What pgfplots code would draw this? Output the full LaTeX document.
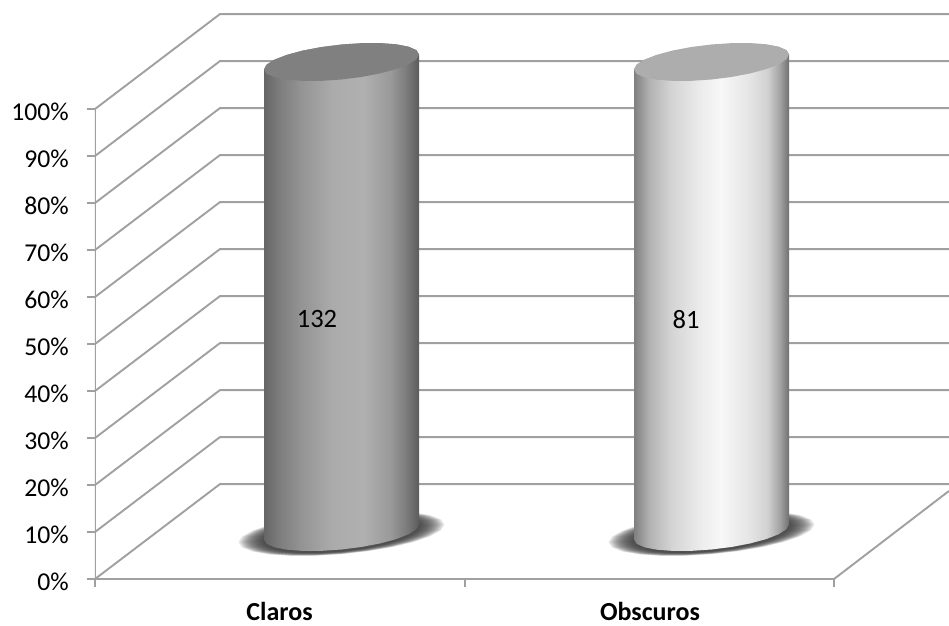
\documentclass[border=0pt]{standalone}
\usepackage{pgfplots}
\usepackage{pgfplotstable}
\usepackage{fontspec}
\setmainfont{Carlito}
\pgfplotsset{compat=1.18}

\definecolor{gridgray}{HTML}{A0A0A0}

% horizontal lighting of the two cylinders (bounding box maps to 25bp..75bp)
\pgfdeclarehorizontalshading{cylclaros}{100bp}{
  color(0bp)=(black!60); color(25bp)=(black!60); color(30bp)=(black!51);
  color(37bp)=(black!42); color(47bp)=(black!33); color(57bp)=(black!31);
  color(66bp)=(black!40); color(71bp)=(black!52); color(75bp)=(black!64);
  color(100bp)=(black!64)}
\pgfdeclarehorizontalshading{cylobscuros}{100bp}{
  color(0bp)=(black!50); color(25bp)=(black!50); color(30bp)=(black!30);
  color(37bp)=(black!17); color(47bp)=(black!7); color(53bp)=(black!3);
  color(62bp)=(black!10); color(68bp)=(black!18); color(72bp)=(black!36);
  color(75bp)=(black!56); color(100bp)=(black!56)}

% outline of a cylinder end: offsets in x units and in percent from its centre
\pgfplotstableread{
dx    dy
77.5   1.596
74.9   2.505
67.1   3.244
54.8   3.761
38.75  4.022
20.1   4.009
0      3.723
-20.1  3.183
-38.75 2.426
-54.8  1.505
-67.1  0.480
-74.9 -0.578
-77.5 -1.596
-74.9 -2.505
-67.1 -3.244
-54.8 -3.761
-38.75 -4.022
-20.1 -4.009
0     -3.723
20.1  -3.183
38.75 -2.426
54.8  -1.505
67.1  -0.480
74.9   0.578
}\capoutline

% Stacked share of each group: both reach 100 %, centred half a depth into the box
\pgfplotstableread{
dx     y
-77.5  8.404
-74.9  7.495
-67.1  6.756
-54.8  6.239
-38.75 5.978
-20.1  5.991
0      6.277
20.1   6.817
38.75  7.574
54.8   8.495
67.1   9.520
74.9  10.578
77.5  11.596
77.5  111.596
74.9  112.505
67.1  113.244
54.8  113.761
38.75 114.022
20.1  114.009
0     113.723
-20.1 113.183
-38.75 112.426
-54.8 111.505
-67.1 110.480
-74.9 109.422
-77.5 108.404
}\bodyoutline

\begin{document}
\begin{tikzpicture}
\begin{axis}[
  scale only axis,
  width=854pt, height=579pt,
  xmin=95, xmax=949,
  ymin=0, ymax=123.19,
  axis line style={draw=none},
  clip=true,
  /pgf/number format/assume math mode=true,
  tick style={draw=gridgray, line width=1.2pt},
  major tick length=8pt,
  tick align=outside,
  xtick={95,465,834},
  xticklabels={},
  ytick={0,10,...,100},
  xtick pos=bottom, ytick pos=left,
  yticklabel={\pgfmathprintnumber{\tick}\%},
  yticklabel style={font=\fontsize{25.7}{30}\selectfont, inner sep=0pt, xshift=-18pt, yshift=-2.5pt},
  extra x ticks={279.5,650},
  extra x tick labels={Claros,Obscuros},
  extra x tick style={
    major tick length=0pt,
    tick label style={font=\fontsize{26}{30}\selectfont\bfseries, yshift=-19.5pt}},
]
% walls and floor of the box
\addplot[gridgray, line width=1.9pt, forget plot] coordinates {(95,0) (95,100)};
\addplot[gridgray, line width=1.9pt, forget plot] coordinates {(95,0) (834,0) (949,18.74)};
\pgfplotsinvokeforeach{0,10,...,100}{
  \addplot[gridgray, line width=1.9pt, forget plot]
    coordinates {(95,#1) (220,#1+20.2) (949,#1+20.2)};
}
% contact shadows: stacked translucent ellipses give the soft edge
\pgfplotsinvokeforeach{1.33,1.31,1.29,1.27,1.25,1.23,1.21,1.19,1.17,1.15,1.13,1.11,1.09,1.07,1.05,1.03,1.01}{
  \addplot[fill=black!80, draw=none, opacity=0.11, forget plot]
    table[x expr=\thisrow{dx}*#1+341.5, y expr=(\thisrow{dy})*(0.52+0.5*#1)+9.7]{\capoutline} -- cycle;
  \addplot[fill=black!80, draw=none, opacity=0.11, forget plot]
    table[x expr=\thisrow{dx}*#1+711.5, y expr=(\thisrow{dy})*(0.52+0.5*#1)+9.7]{\capoutline} -- cycle;
}
% Claros
\addplot[shade, shading=cylclaros, draw=none, forget plot]
  table[x expr=\thisrow{dx}+341.5, y=y]{\bodyoutline} -- cycle;
\addplot[fill=black!50, draw=none, forget plot]
  table[x expr=\thisrow{dx}+341.5, y expr=\thisrow{dy}+110]{\capoutline} -- cycle;
% Obscuros
\addplot[shade, shading=cylobscuros, draw=none, forget plot]
  table[x expr=\thisrow{dx}+711.5, y=y]{\bodyoutline} -- cycle;
\addplot[fill=black!32, draw=none, forget plot]
  table[x expr=\thisrow{dx}+711.5, y expr=\thisrow{dy}+110]{\capoutline} -- cycle;
% counts printed on the cylinders
\node[font=\fontsize{26.5}{31}\selectfont] at (axis cs:317,55.3) {132};
\node[font=\fontsize{26.5}{31}\selectfont] at (axis cs:686,55.3) {81};
\end{axis}
\pgfresetboundingbox
\path[use as bounding box] (-95pt,-46pt) rectangle (854pt,579pt);
\end{tikzpicture}
\end{document}
